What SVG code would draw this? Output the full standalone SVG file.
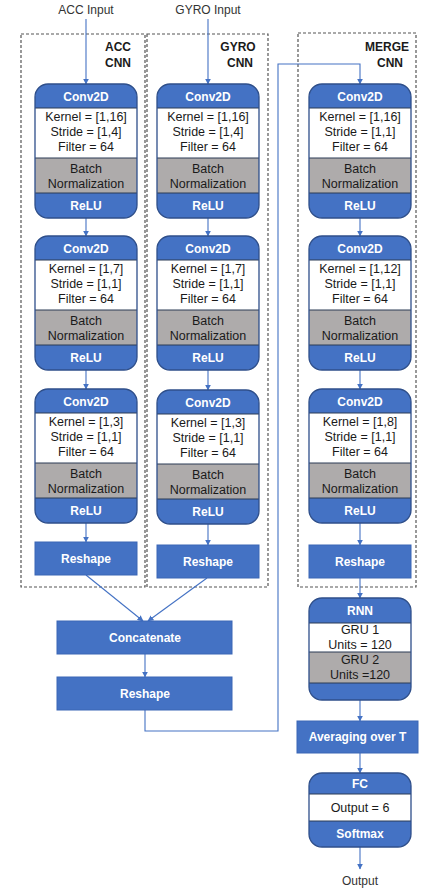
<svg xmlns="http://www.w3.org/2000/svg" width="421" height="888" viewBox="0 0 421 888">
  <style>
    text { font-family: "Liberation Sans", Arial, sans-serif; text-anchor: middle; dominant-baseline: central; }
    .hd { fill: #ffffff; font-weight: bold; font-size: 12px; }
    .bd { fill: #1a1a1a; font-size: 12.5px; }
    .lb { fill: #1a1a1a; font-size: 12px; font-weight: bold; }
    .io { fill: #333333; font-size: 12px; }
    .grp { fill: none; stroke: #555555; stroke-width: 1.2; stroke-dasharray: 3 2; }
    .flat { fill: #4472C4; stroke: #3A66B5; stroke-width: 1; }
    .wire { fill: none; stroke: #4472C4; stroke-width: 1.1; }
    .sep { stroke: #2B3A55; stroke-width: 1; }
  </style>
  <defs>
    <marker id="ah" viewBox="0 0 10 10" refX="9" refY="5" markerWidth="6" markerHeight="6" orient="auto" markerUnits="userSpaceOnUse">
      <path d="M0,0 L10,5 L0,10 z" fill="#4472C4"/>
    </marker>
    <!-- conv block: header / params / batch norm / relu -->
    <g id="convShape">
      <rect x="0" y="0" width="102" height="134" rx="13" fill="#4472C4"/>
      <rect x="0" y="24" width="102" height="50" fill="#ffffff"/>
      <rect x="0" y="74" width="102" height="35" fill="#AEABAB"/>
      <line class="sep" x1="0" y1="24" x2="102" y2="24"/>
      <line class="sep" x1="0" y1="74" x2="102" y2="74"/>
      <line class="sep" x1="0" y1="109" x2="102" y2="109"/>
      <rect x="0" y="0" width="102" height="134" rx="13" fill="none" stroke="#2F4F8A" stroke-width="1.3"/>
    </g>
  </defs>

  <!-- group frames -->
  <rect class="grp" x="21" y="34" width="124" height="553"/>
  <rect class="grp" x="147" y="34" width="121" height="553"/>
  <rect class="grp" x="298" y="33" width="118" height="554"/>
  <text class="lb" x="118" y="47">ACC</text>
  <text class="lb" x="118" y="63">CNN</text>
  <text class="lb" x="238" y="47">GYRO</text>
  <text class="lb" x="240" y="63">CNN</text>
  <text class="lb" x="387" y="47">MERGE</text>
  <text class="lb" x="390" y="63">CNN</text>

  <text class="io" x="86" y="10">ACC Input</text>
  <text class="io" x="208" y="10">GYRO Input</text>
  <text class="io" x="360" y="881">Output</text>

  <!-- connectors -->
  <g id="connectors">
    <line class="wire" x1="86" y1="19" x2="86" y2="84" marker-end="url(#ah)"/>
    <line class="wire" x1="208" y1="19" x2="208" y2="84" marker-end="url(#ah)"/>
    <line class="wire" x1="86" y1="218" x2="86" y2="236" marker-end="url(#ah)"/>
    <line class="wire" x1="86" y1="370" x2="86" y2="389" marker-end="url(#ah)"/>
    <line class="wire" x1="86" y1="523" x2="86" y2="542" marker-end="url(#ah)"/>
    <line class="wire" x1="208" y1="218" x2="208" y2="236" marker-end="url(#ah)"/>
    <line class="wire" x1="208" y1="370" x2="208" y2="390" marker-end="url(#ah)"/>
    <line class="wire" x1="208" y1="524" x2="208" y2="545" marker-end="url(#ah)"/>
    <line class="wire" x1="360" y1="218" x2="360" y2="236" marker-end="url(#ah)"/>
    <line class="wire" x1="360" y1="370" x2="360" y2="389" marker-end="url(#ah)"/>
    <line class="wire" x1="360" y1="523" x2="360" y2="545" marker-end="url(#ah)"/>
    <line class="wire" x1="86" y1="575" x2="143" y2="621" marker-end="url(#ah)"/>
    <line class="wire" x1="207" y1="578" x2="148" y2="621" marker-end="url(#ah)"/>
    <line class="wire" x1="145" y1="654" x2="145" y2="677" marker-end="url(#ah)"/>
    <polyline class="wire" points="145,710 145,731 278,731 278,64 360,64 360,84" marker-end="url(#ah)"/>
    <line class="wire" x1="360" y1="578" x2="360" y2="598" marker-end="url(#ah)"/>
    <line class="wire" x1="360" y1="700" x2="360" y2="721" marker-end="url(#ah)"/>
    <line class="wire" x1="360" y1="753" x2="360" y2="773" marker-end="url(#ah)"/>
    <line class="wire" x1="360" y1="847" x2="360" y2="869" marker-end="url(#ah)"/>
  </g>

  <!-- ACC branch -->
  <g id="acc-conv1" transform="translate(35,84)">
    <use href="#convShape"/>
    <text class="hd" x="51" y="13">Conv2D</text>
    <text class="bd" x="51" y="32.5">Kernel = [1,16]</text>
    <text class="bd" x="51" y="47.5">Stride = [1,4]</text>
    <text class="bd" x="51" y="62.5">Filter = 64</text>
    <text class="bd" x="51" y="84.5">Batch</text>
    <text class="bd" x="51" y="100">Normalization</text>
    <text class="hd" x="51" y="122">ReLU</text>
  </g>
  <g id="acc-conv2" transform="translate(35,236)">
    <use href="#convShape"/>
    <text class="hd" x="51" y="13">Conv2D</text>
    <text class="bd" x="51" y="32.5">Kernel = [1,7]</text>
    <text class="bd" x="51" y="47.5">Stride = [1,1]</text>
    <text class="bd" x="51" y="62.5">Filter = 64</text>
    <text class="bd" x="51" y="84.5">Batch</text>
    <text class="bd" x="51" y="100">Normalization</text>
    <text class="hd" x="51" y="122">ReLU</text>
  </g>
  <g id="acc-conv3" transform="translate(35,389)">
    <use href="#convShape"/>
    <text class="hd" x="51" y="13">Conv2D</text>
    <text class="bd" x="51" y="32.5">Kernel = [1,3]</text>
    <text class="bd" x="51" y="47.5">Stride = [1,1]</text>
    <text class="bd" x="51" y="62.5">Filter = 64</text>
    <text class="bd" x="51" y="84.5">Batch</text>
    <text class="bd" x="51" y="100">Normalization</text>
    <text class="hd" x="51" y="122">ReLU</text>
  </g>
  <g id="acc-reshape">
    <rect class="flat" x="35" y="542" width="102" height="33"/>
    <text class="hd" x="86" y="558.5">Reshape</text>
  </g>

  <!-- GYRO branch -->
  <g id="gyro-conv1" transform="translate(157,84)">
    <use href="#convShape"/>
    <text class="hd" x="51" y="13">Conv2D</text>
    <text class="bd" x="51" y="32.5">Kernel = [1,16]</text>
    <text class="bd" x="51" y="47.5">Stride = [1,4]</text>
    <text class="bd" x="51" y="62.5">Filter = 64</text>
    <text class="bd" x="51" y="84.5">Batch</text>
    <text class="bd" x="51" y="100">Normalization</text>
    <text class="hd" x="51" y="122">ReLU</text>
  </g>
  <g id="gyro-conv2" transform="translate(157,236)">
    <use href="#convShape"/>
    <text class="hd" x="51" y="13">Conv2D</text>
    <text class="bd" x="51" y="32.5">Kernel = [1,7]</text>
    <text class="bd" x="51" y="47.5">Stride = [1,1]</text>
    <text class="bd" x="51" y="62.5">Filter = 64</text>
    <text class="bd" x="51" y="84.5">Batch</text>
    <text class="bd" x="51" y="100">Normalization</text>
    <text class="hd" x="51" y="122">ReLU</text>
  </g>
  <g id="gyro-conv3" transform="translate(157,390)">
    <use href="#convShape"/>
    <text class="hd" x="51" y="13">Conv2D</text>
    <text class="bd" x="51" y="32.5">Kernel = [1,3]</text>
    <text class="bd" x="51" y="47.5">Stride = [1,1]</text>
    <text class="bd" x="51" y="62.5">Filter = 64</text>
    <text class="bd" x="51" y="84.5">Batch</text>
    <text class="bd" x="51" y="100">Normalization</text>
    <text class="hd" x="51" y="122">ReLU</text>
  </g>
  <g id="gyro-reshape">
    <rect class="flat" x="157" y="545" width="102" height="33"/>
    <text class="hd" x="208" y="561.5">Reshape</text>
  </g>

  <!-- merge -->
  <g id="concatenate">
    <rect class="flat" x="57" y="621" width="175" height="33"/>
    <text class="hd" x="145" y="637.5">Concatenate</text>
  </g>
  <g id="merge-reshape-in">
    <rect class="flat" x="57" y="677" width="175" height="33"/>
    <text class="hd" x="145" y="693.5">Reshape</text>
  </g>

  <g id="merge-conv1" transform="translate(309,84)">
    <use href="#convShape"/>
    <text class="hd" x="51" y="13">Conv2D</text>
    <text class="bd" x="51" y="32.5">Kernel = [1,16]</text>
    <text class="bd" x="51" y="47.5">Stride = [1,1]</text>
    <text class="bd" x="51" y="62.5">Filter = 64</text>
    <text class="bd" x="51" y="84.5">Batch</text>
    <text class="bd" x="51" y="100">Normalization</text>
    <text class="hd" x="51" y="122">ReLU</text>
  </g>
  <g id="merge-conv2" transform="translate(309,236)">
    <use href="#convShape"/>
    <text class="hd" x="51" y="13">Conv2D</text>
    <text class="bd" x="51" y="32.5">Kernel = [1,12]</text>
    <text class="bd" x="51" y="47.5">Stride = [1,1]</text>
    <text class="bd" x="51" y="62.5">Filter = 64</text>
    <text class="bd" x="51" y="84.5">Batch</text>
    <text class="bd" x="51" y="100">Normalization</text>
    <text class="hd" x="51" y="122">ReLU</text>
  </g>
  <g id="merge-conv3" transform="translate(309,389)">
    <use href="#convShape"/>
    <text class="hd" x="51" y="13">Conv2D</text>
    <text class="bd" x="51" y="32.5">Kernel = [1,8]</text>
    <text class="bd" x="51" y="47.5">Stride = [1,1]</text>
    <text class="bd" x="51" y="62.5">Filter = 64</text>
    <text class="bd" x="51" y="84.5">Batch</text>
    <text class="bd" x="51" y="100">Normalization</text>
    <text class="hd" x="51" y="122">ReLU</text>
  </g>
  <g id="merge-reshape">
    <rect class="flat" x="309" y="545" width="102" height="33"/>
    <text class="hd" x="360" y="561.5">Reshape</text>
  </g>

  <!-- recurrent part -->
  <g id="rnn" transform="translate(309,598)">
    <rect x="0" y="0" width="102" height="102" rx="13" fill="#4472C4"/>
    <rect x="0" y="25" width="102" height="29" fill="#ffffff"/>
    <rect x="0" y="54" width="102" height="31" fill="#AEABAB"/>
    <line class="sep" x1="0" y1="25" x2="102" y2="25"/>
    <line class="sep" x1="0" y1="54" x2="102" y2="54"/>
    <line class="sep" x1="0" y1="85" x2="102" y2="85"/>
    <rect x="0" y="0" width="102" height="102" rx="13" fill="none" stroke="#2F4F8A" stroke-width="1.3"/>
    <text class="hd" x="51" y="12.5">RNN</text>
    <text class="bd" x="51" y="32">GRU 1</text>
    <text class="bd" x="51" y="47">Units = 120</text>
    <text class="bd" x="51" y="62">GRU 2</text>
    <text class="bd" x="51" y="77">Units =120</text>
  </g>

  <g id="averaging">
    <rect class="flat" x="297" y="721" width="121" height="32"/>
    <text class="hd" x="357.5" y="737">Averaging over T</text>
  </g>

  <g id="fc" transform="translate(309,773)">
    <rect x="0" y="0" width="102" height="74" rx="13" fill="#4472C4"/>
    <rect x="0" y="21" width="102" height="27" fill="#ffffff"/>
    <line class="sep" x1="0" y1="21" x2="102" y2="21"/>
    <line class="sep" x1="0" y1="48" x2="102" y2="48"/>
    <rect x="0" y="0" width="102" height="74" rx="13" fill="none" stroke="#2F4F8A" stroke-width="1.3"/>
    <text class="hd" x="51" y="10.5">FC</text>
    <text class="bd" x="51" y="34.5">Output = 6</text>
    <text class="hd" x="51" y="61">Softmax</text>
  </g>
</svg>
